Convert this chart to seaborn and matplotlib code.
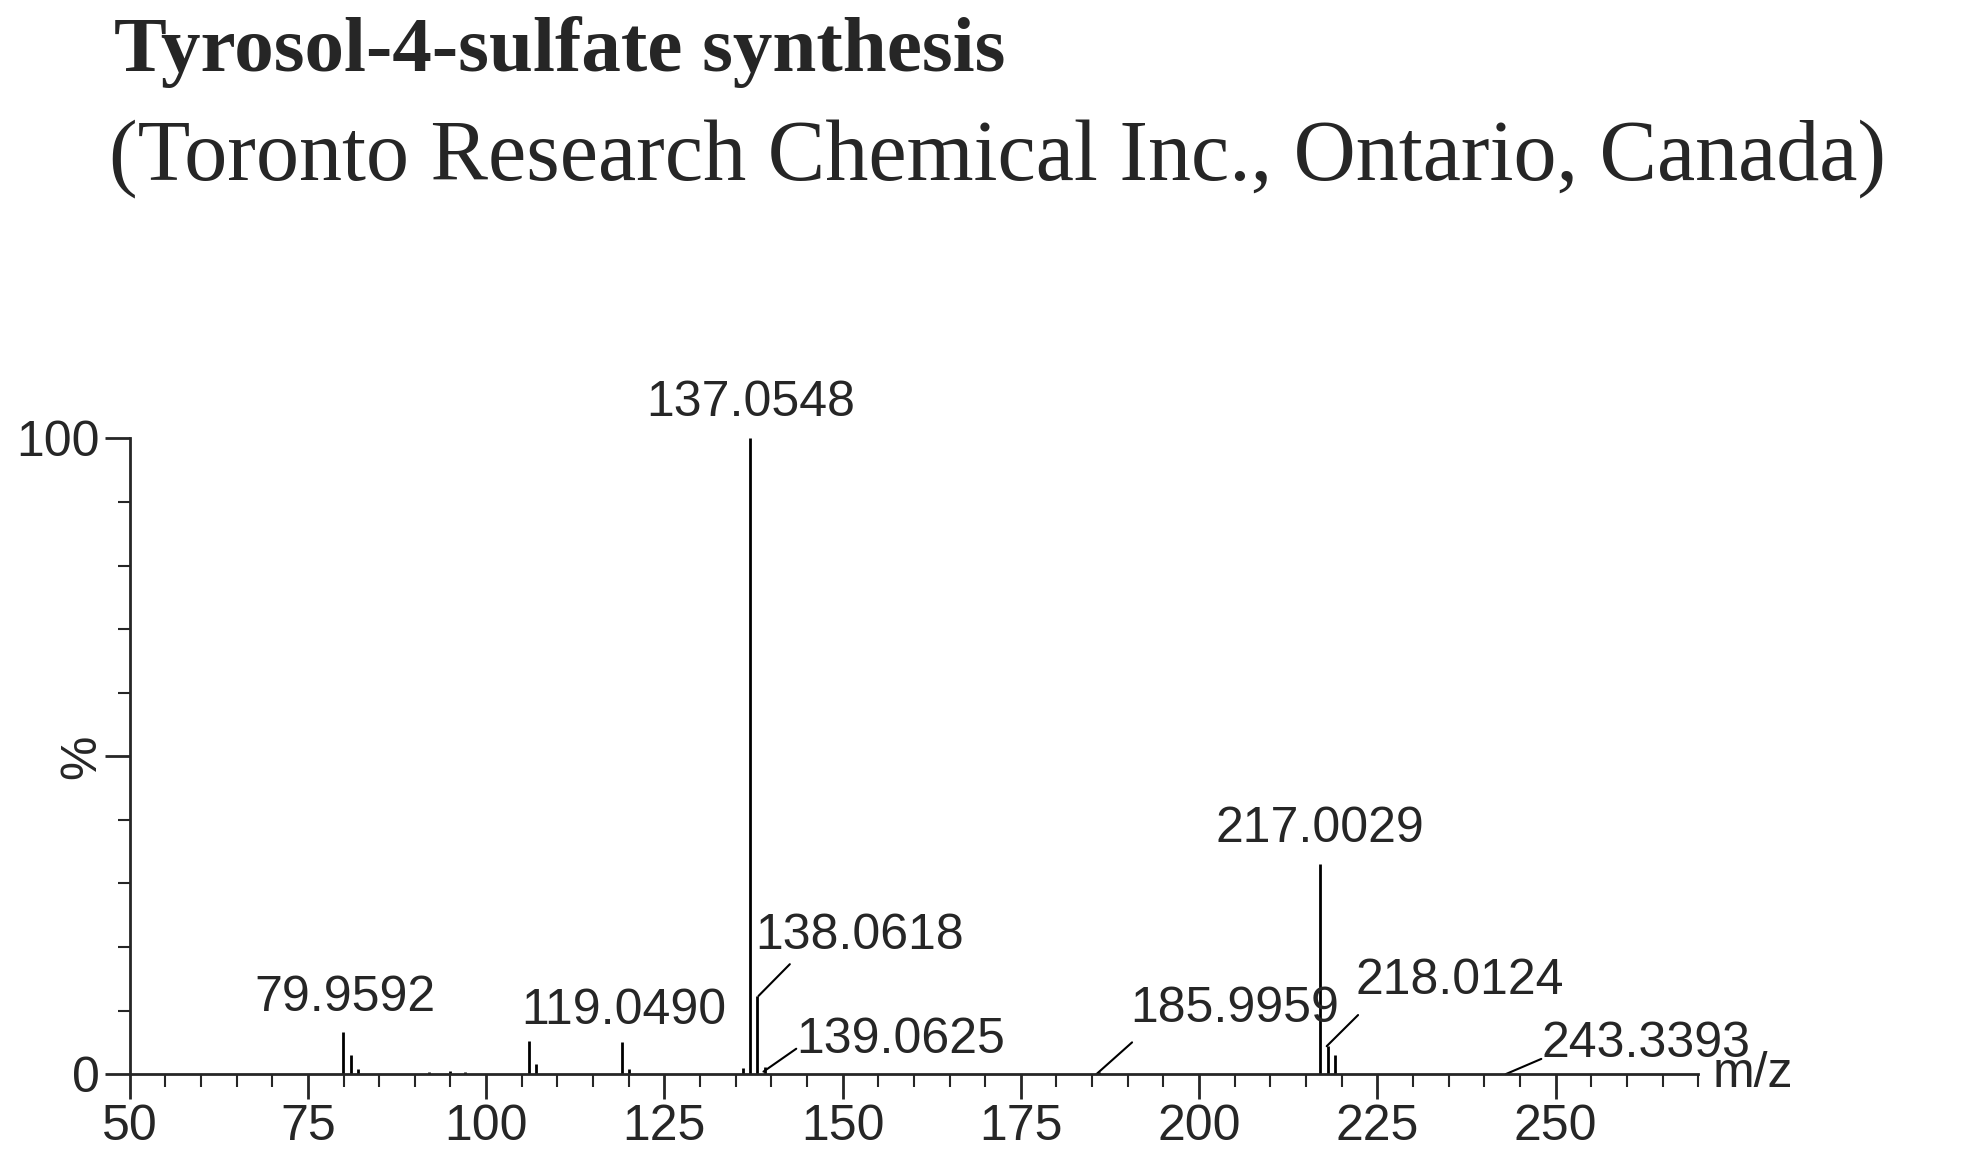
import matplotlib
matplotlib.use('Agg')
import matplotlib.pyplot as plt
import seaborn as sns
from matplotlib.ticker import MultipleLocator

sns.set_style("ticks")
plt.rcParams['font.family'] = ['Liberation Sans', 'DejaVu Sans']

# peak list (m/z, relative intensity %)
mz = [79.9592, 81.0, 82.0, 92.0, 95.0, 97.0, 106.0, 107.0, 119.049, 120.0,
      136.0, 137.0548, 138.0618, 139.0625, 185.9959, 217.0029, 218.0124, 219.0, 243.3393]
inten = [6.7, 3.0, 0.8, 0.4, 0.5, 0.4, 5.2, 1.6, 5.0, 0.8,
         0.9, 100.0, 12.3, 1.2, 0.3, 33.0, 4.4, 3.0, 0.2]

# labels placed on top of peaks
top_text = ['79.9592', '119.0490', '137.0548', '217.0029']
top_xy = [(80.2, 8.3), (119.3, 6.3), (137.0548, 102.0), (217.0029, 35.0)]

# labels with leader lines: text, line start, line end, text anchor
lead_text = ['138.0618', '139.0625', '185.9959', '218.0124', '243.3393']
lead_start = [(138.2, 12.3), (138.9, 0.4), (185.6, 0.0), (217.9, 4.4), (243.0, 0.0)]
lead_end = [(142.6, 17.3), (143.5, 4.0), (190.6, 5.0), (222.3, 9.3), (248.0, 2.4)]
lead_pos = [(137.7, 21.8), (143.5, 5.4), (190.4, 10.3), (222.0, 14.7), (248.0, 4.8)]

fig = plt.figure(figsize=(19.73, 11.6), dpi=100)
ax = fig.add_axes([0.0657, 0.074, 0.795, 0.548])
ax.vlines(mz, 0, inten, color='black', lw=2)

fs = 36
for t, q in zip(top_text, top_xy):
    ax.text(q[0], q[1], t, fontsize=fs, ha='center', va='bottom')
for t, p, e, q in zip(lead_text, lead_start, lead_end, lead_pos):
    ax.plot([p[0], e[0]], [p[1], e[1]], color='black', lw=1.5, clip_on=False)
    ax.text(q[0], q[1], t, fontsize=fs, ha='left', va='center')

ax.set_xlim(50, 270)
ax.set_ylim(0, 100)
ax.set_xticks([50, 75, 100, 125, 150, 175, 200, 225, 250])
ax.xaxis.set_minor_locator(MultipleLocator(5))
ax.set_yticks([0, 50, 100])
ax.set_yticklabels(['0', '', '100'])
ax.yaxis.set_minor_locator(MultipleLocator(10))
ax.tick_params(axis='both', which='major', length=18, width=2, labelsize=fs, direction='out')
ax.tick_params(axis='both', which='minor', length=9, width=1.5, direction='out')
sns.despine(ax=ax)
for s in ['left', 'bottom']:
    ax.spines[s].set_linewidth(2)
ax.text(-0.03, 0.5, '%', fontsize=fs, rotation=90, ha='center', va='center',
        transform=ax.transAxes)
ax.text(272, 0, 'm/z', fontsize=fs, ha='left', va='center')

fig.text(0.058, 0.955, 'Tyrosol-4-sulfate synthesis', fontsize=57, fontweight='bold',
         family='Liberation Serif', va='center')
fig.text(0.055, 0.862, '(Toronto Research Chemical Inc., Ontario, Canada)', fontsize=62,
         family='Liberation Serif', va='center')

fig.savefig('out.png', dpi=100)
